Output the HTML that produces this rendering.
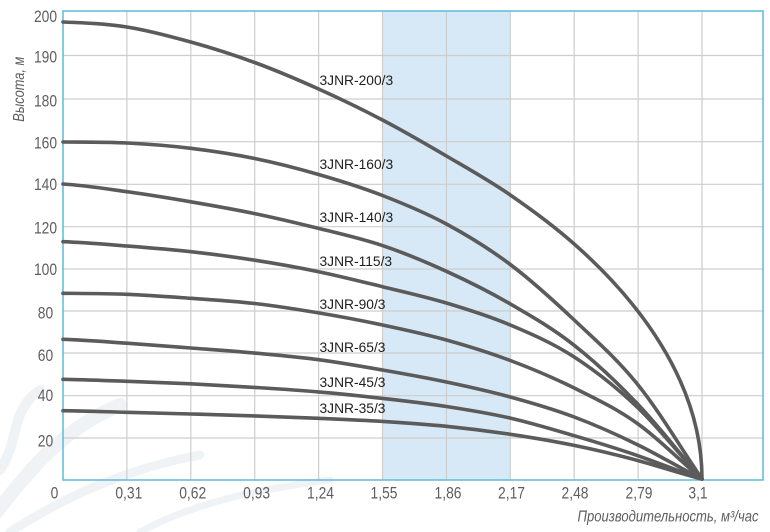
<!DOCTYPE html>
<html>
<head>
<meta charset="utf-8">
<style>
  html, body { margin: 0; padding: 0; background: #ffffff; }
  svg { display: block; }
  .tick { font-family: "Liberation Sans", sans-serif; font-size: 16.5px; fill: #5e5e5e; }
  .lbl { font-family: "Liberation Sans", sans-serif; font-size: 13.8px; fill: #1e1e1e; }
  .ttl { font-family: "Liberation Sans", sans-serif; font-size: 15.5px; font-style: italic; fill: #5e5e5e; }
  .crv { fill: none; stroke: #5b5b5b; stroke-width: 3.6; stroke-linecap: round; stroke-linejoin: round; }
  .grid { stroke: #cdcdcd; stroke-width: 1.2; }
</style>
</head>
<body>
<svg width="770" height="532" viewBox="0 0 770 532" xmlns="http://www.w3.org/2000/svg">
  <rect x="0" y="0" width="770" height="532" fill="#ffffff"/>

  <!-- faint watermark swirls -->
  <g fill="none" stroke="#f0f3f6" stroke-linecap="round">
    <path d="M-10,520 C30,470 60,430 120,405" stroke-width="14"/>
    <path d="M0,470 C20,440 10,410 40,390" stroke-width="10"/>
    <path d="M10,532 C60,500 120,470 200,455" stroke-width="9"/>
    <path d="M140,532 C190,505 250,490 330,480" stroke-width="7"/>
  </g>

  <!-- shaded band -->
  <rect x="382.5" y="11" width="127.8" height="469" fill="#d7e9f6"/>

  <!-- gridlines horizontal -->
  <g class="grid">
    <line x1="63" y1="55.5" x2="763" y2="55.5"/>
    <line x1="63" y1="99" x2="763" y2="99"/>
    <line x1="63" y1="141.7" x2="763" y2="141.7"/>
    <line x1="63" y1="184.3" x2="763" y2="184.3"/>
    <line x1="63" y1="226.7" x2="763" y2="226.7"/>
    <line x1="63" y1="269" x2="763" y2="269"/>
    <line x1="63" y1="311" x2="763" y2="311"/>
    <line x1="63" y1="353" x2="763" y2="353"/>
    <line x1="63" y1="395.7" x2="763" y2="395.7"/>
    <line x1="63" y1="438" x2="763" y2="438"/>
  </g>
  <!-- gridlines vertical -->
  <g class="grid">
    <line x1="126.9" y1="11" x2="126.9" y2="480"/>
    <line x1="190.8" y1="11" x2="190.8" y2="480"/>
    <line x1="254.7" y1="11" x2="254.7" y2="480"/>
    <line x1="318.6" y1="11" x2="318.6" y2="480"/>
    <line x1="382.5" y1="11" x2="382.5" y2="480"/>
    <line x1="446.4" y1="11" x2="446.4" y2="480"/>
    <line x1="510.3" y1="11" x2="510.3" y2="480"/>
    <line x1="574.2" y1="11" x2="574.2" y2="480"/>
    <line x1="638.1" y1="11" x2="638.1" y2="480"/>
    <line x1="702" y1="11" x2="702" y2="480"/>
  </g>

  <!-- plot border -->
  <rect x="63" y="11" width="700" height="469" fill="none" stroke="#66bfda" stroke-width="1.6"/>

  <!-- curves -->
  <path class="crv" d="M63,22 C84.3,22.83 105.6,23.67 126.9,27 C148.2,30.33 169.5,36.08 190.8,42 C212.1,47.92 233.4,54.67 254.7,62.5 C276,70.33 297.3,79.42 318.6,89 C339.9,98.58 361.2,108.83 382.5,120 C403.8,131.17 425.1,143.5 446.4,156 C467.7,168.5 489,180.33 510.3,195 C531.6,209.67 552.9,225.17 574.2,244 C634,296.8 702,379 702,479"/>
  <path class="crv" d="M63,142 C84.3,142.17 105.6,142 126.9,143 C148.2,144.05 169.5,145.72 190.8,148.3 C212.1,150.88 233.4,154.13 254.7,158.5 C276,162.87 297.3,168.33 318.6,174.5 C339.9,180.67 361.2,187.25 382.5,195.5 C403.8,203.75 425.1,212.5 446.4,224 C467.7,235.5 489,248.5 510.3,264.5 C531.6,280.5 552.9,299.92 574.2,320 C595.5,340.08 616.8,358.5 638.1,385 C659.4,411.5 680.7,447.67 702,479"/>
  <path class="crv" d="M63,184 C84.3,185.28 105.6,188.73 126.9,191.7 C148.2,194.67 169.5,198.15 190.8,201.8 C212.1,205.45 233.4,209.17 254.7,213.6 C276,218.03 297.3,223.07 318.6,228.4 C339.9,233.73 361.2,238.45 382.5,245.6 C403.8,252.75 425.1,261.58 446.4,271.3 C467.7,281.02 489,291.57 510.3,303.9 C531.6,316.23 552.9,328.53 574.2,345.3 C595.5,362.07 616.8,382.05 638.1,404.5 C659.4,426.95 680.7,454.83 702,479"/>
  <path class="crv" d="M63,241.7 C84.3,242.42 105.6,244.33 126.9,246 C148.2,247.67 169.5,249.33 190.8,251.7 C212.1,254.07 233.4,256.87 254.7,260.2 C276,263.53 297.3,267.28 318.6,271.7 C339.9,276.12 361.2,281.48 382.5,286.7 C403.8,291.92 425.1,296.62 446.4,303 C467.7,309.38 489,316 510.3,325 C531.6,334 552.9,343.17 574.2,357 C595.5,370.83 616.8,387.5 638.1,408 C659.4,428.5 680.7,456 702,479"/>
  <path class="crv" d="M63,293.3 C84.3,293.47 105.6,293.47 126.9,294.3 C148.2,295.13 169.5,296.77 190.8,298.3 C212.1,299.83 233.4,301.07 254.7,303.5 C276,305.93 297.3,309.32 318.6,312.9 C339.9,316.48 361.2,320.48 382.5,325 C403.8,329.52 425.1,334.08 446.4,340 C467.7,345.92 489,352.5 510.3,360.5 C531.6,368.5 552.9,377.42 574.2,388 C595.5,398.58 616.8,408.67 638.1,424 C659.4,439.33 680.7,461.33 702,479"/>
  <path class="crv" d="M63,339.3 C84.3,339.95 105.6,341.75 126.9,343.2 C148.2,344.65 169.5,346.35 190.8,348 C212.1,349.65 233.4,351.15 254.7,353.1 C276,355.05 297.3,356.88 318.6,359.7 C339.9,362.52 361.2,366.28 382.5,370 C403.8,373.72 425.1,377.5 446.4,382 C467.7,386.5 489,391.17 510.3,397 C531.6,402.83 552.9,409 574.2,417 C595.5,425 616.8,434.5 638.1,445 C659.4,455.5 680.7,468.33 702,479"/>
  <path class="crv" d="M63,379.3 C84.3,379.63 105.6,380.55 126.9,381.3 C148.2,382.05 169.5,382.78 190.8,383.8 C212.1,384.82 233.4,386.05 254.7,387.4 C276,388.75 297.3,390.07 318.6,391.9 C339.9,393.73 361.2,395.97 382.5,398.4 C403.8,400.83 425.1,403.22 446.4,406.5 C467.7,409.78 489,413.23 510.3,418.1 C531.6,422.97 552.9,429.42 574.2,435.7 C595.5,441.98 616.8,448.42 638.1,455.8 C659.4,463.18 680.7,471.93 702,479"/>
  <path class="crv" d="M63,410.7 C84.3,410.97 105.6,411.75 126.9,412.3 C148.2,412.85 169.5,413.4 190.8,414 C212.1,414.6 233.4,415.18 254.7,415.9 C276,416.62 297.3,417.38 318.6,418.3 C339.9,419.22 361.2,420.07 382.5,421.4 C403.8,422.73 425.1,424.15 446.4,426.3 C467.7,428.45 489,431.12 510.3,434.3 C531.6,437.48 552.9,441.02 574.2,445.4 C595.5,449.78 616.8,454.83 638.1,460.6 C659.4,466.37 680.7,473.53 702,479"/>

  <!-- curve labels -->
  <g class="lbl">
    <text x="319.5" y="85">3JNR-200/3</text>
    <text x="319.5" y="169">3JNR-160/3</text>
    <text x="319.5" y="222">3JNR-140/3</text>
    <text x="319.5" y="266">3JNR-115/3</text>
    <text x="319.5" y="309">3JNR-90/3</text>
    <text x="319.5" y="352">3JNR-65/3</text>
    <text x="319.5" y="387">3JNR-45/3</text>
    <text x="319.5" y="413">3JNR-35/3</text>
  </g>

  <!-- y tick labels -->
  <g class="tick" text-anchor="middle">
    <text transform="translate(45.5,21.9) scale(0.84,1)">200</text>
    <text transform="translate(45.5,62.6) scale(0.84,1)">190</text>
    <text transform="translate(45.5,106.7) scale(0.84,1)">180</text>
    <text transform="translate(45.5,148.4) scale(0.84,1)">160</text>
    <text transform="translate(45.5,190.1) scale(0.84,1)">140</text>
    <text transform="translate(45.5,233.4) scale(0.84,1)">120</text>
    <text transform="translate(45.5,274.9) scale(0.84,1)">100</text>
    <text transform="translate(45.5,318.4) scale(0.84,1)">80</text>
    <text transform="translate(45.5,360.9) scale(0.84,1)">60</text>
    <text transform="translate(45.5,401.2) scale(0.84,1)">40</text>
    <text transform="translate(45.5,446.7) scale(0.84,1)">20</text>
    <text transform="translate(54.5,498.4) scale(0.84,1)">0</text>
  </g>

  <!-- x tick labels -->
  <g class="tick" text-anchor="middle">
    <text transform="translate(128.8,498.4) scale(0.84,1)">0,31</text>
    <text transform="translate(192.7,498.4) scale(0.84,1)">0,62</text>
    <text transform="translate(256.6,498.4) scale(0.84,1)">0,93</text>
    <text transform="translate(320.5,498.4) scale(0.84,1)">1,24</text>
    <text transform="translate(384,498.4) scale(0.84,1)">1,55</text>
    <text transform="translate(448,498.4) scale(0.84,1)">1,86</text>
    <text transform="translate(511.5,498.4) scale(0.84,1)">2,17</text>
    <text transform="translate(575,498.4) scale(0.84,1)">2,48</text>
    <text transform="translate(639,498.4) scale(0.84,1)">2,79</text>
    <text transform="translate(698,498.4) scale(0.84,1)">3,1</text>
  </g>

  <!-- axis titles -->
  <text class="ttl" transform="translate(24,89.2) rotate(-90)" text-anchor="middle" textLength="65" lengthAdjust="spacingAndGlyphs">Высота, м</text>
  <text class="ttl" x="577.5" y="521.7" textLength="181" lengthAdjust="spacingAndGlyphs">Производительность, м³/час</text>
</svg>
</body>
</html>
